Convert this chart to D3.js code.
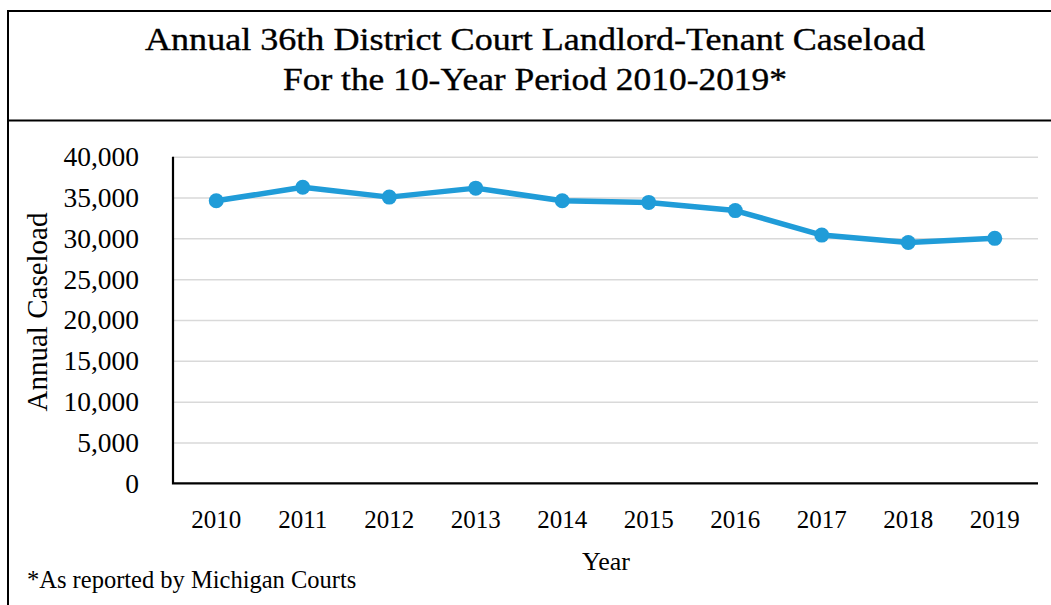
<!DOCTYPE html>
<meta charset="utf-8">
<style>
body { margin: 0; background: #fff; }
text { font-family: "Liberation Serif", "Times New Roman", serif; fill: #000; }
.grid line { stroke: #d9d9d9; stroke-width: 1.5px; }
.grid path { display: none; }
</style>
<svg width="1051" height="605"></svg>
<script src="https://cdn.jsdelivr.net/npm/d3@7"></script>
<script>

// data
var years = ["2010", "2011", "2012", "2013", "2014", "2015", "2016", "2017", "2018", "2019"];
var caseload = [34600, 36250, 35050, 36150, 34600, 34400, 33400, 30400, 29500, 30000];
var yTicks = [0, 5000, 10000, 15000, 20000, 25000, 30000, 35000, 40000];
var titleLines = ["Annual 36th District Court Landlord-Tenant Caseload", "For the 10-Year Period 2010-2019*"];

var svg = d3.select("svg"),
    width = +svg.attr("width"),
    height = +svg.attr("height"),
    margin = {top: 157, right: 13, bottom: 122, left: 173};

var x = d3.scaleBand()
    .domain(years)
    .range([margin.left, width - margin.right]);

var y = d3.scaleLinear()
    .domain([0, 40000])
    .range([height - margin.bottom + 0.3, margin.top - 0.3]);

// frame: top, left and title separator
svg.append("path")
    .attr("d", "M8," + height + "V11H" + width + "M8,120.5H" + width)
    .attr("fill", "none")
    .attr("stroke", "#000")
    .attr("stroke-width", 2);

// title (source font is wider than Liberation, so stretch to its measured width)
var titleWidths = [780, 504];
svg.append("g").selectAll("text")
  .data(titleLines)
  .enter().append("text")
    .attr("x", 535)
    .attr("y", function(d, i) { return 50 + i * 40; })
    .attr("text-anchor", "middle")
    .attr("textLength", function(d, i) { return titleWidths[i]; })
    .attr("lengthAdjust", "spacingAndGlyphs")
    .style("font-size", "31px")
    .style("stroke", "#000")
    .style("stroke-width", "0.35px")
    .text(function(d) { return d; });

// gridlines
svg.append("g")
    .attr("class", "grid")
    .attr("transform", "translate(" + margin.left + ",0)")
    .call(d3.axisRight(y).tickValues(yTicks.filter(function(d) { return d > 0; }))
      .tickSize(width - margin.right - margin.left).tickFormat(""));

// y tick labels
svg.append("g").selectAll("text")
  .data(yTicks)
  .enter().append("text")
    .attr("x", 139)
    .attr("y", function(d) { return y(d); })
    .attr("dy", "0.34em")
    .attr("text-anchor", "end")
    .style("font-size", "27.5px")
    .text(d3.format(","));

// x tick labels
svg.append("g").selectAll("text")
  .data(years)
  .enter().append("text")
    .attr("x", function(d) { return x(d) + x.bandwidth() / 2; })
    .attr("y", 528)
    .attr("text-anchor", "middle")
    .style("font-size", "25px")
    .text(function(d) { return d; });

// axis lines
svg.append("path")
    .attr("d", "M" + margin.left + "," + y(40000) + "V" + y(0) + "H" + (width - margin.right))
    .attr("fill", "none")
    .attr("stroke", "#000")
    .attr("stroke-width", 2.2);

// axis titles
svg.append("text")
    .attr("transform", "translate(47,312)rotate(-90)")
    .attr("text-anchor", "middle")
    .style("font-size", "29px")
    .text("Annual Caseload");

svg.append("text")
    .attr("x", 606)
    .attr("y", 570)
    .attr("text-anchor", "middle")
    .style("font-size", "26px")
    .text("Year");

svg.append("text")
    .attr("x", 27)
    .attr("y", 588)
    .style("font-size", "24.5px")
    .text("*As reported by Michigan Courts");

// series
var line = d3.line()
    .x(function(d, i) { return x(years[i]) + x.bandwidth() / 2; })
    .y(function(d) { return y(d); });

svg.append("path")
    .datum(caseload)
    .attr("d", line)
    .attr("fill", "none")
    .attr("stroke", "#209cd8")
    .attr("stroke-width", 5.5)
    .attr("stroke-linejoin", "round");

svg.append("g").selectAll("circle")
  .data(caseload)
  .enter().append("circle")
    .attr("cx", function(d, i) { return x(years[i]) + x.bandwidth() / 2; })
    .attr("cy", function(d) { return y(d); })
    .attr("r", 7.5)
    .attr("fill", "#209cd8");

</script>
